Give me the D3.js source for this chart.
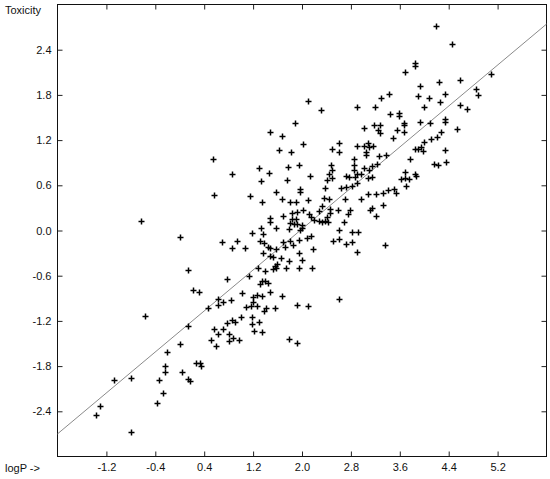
<!DOCTYPE html>
<meta charset="utf-8">
<script src="https://cdn.jsdelivr.net/npm/d3@7/dist/d3.min.js"></script>
<style>
  body { margin: 0; background: #fff; }
  text { font-family: "Liberation Sans", Arial, sans-serif; font-size: 11px; fill: #111; }
</style>
<body>
<div id="my_dataviz"></div>
<script>

// logP (x) and toxicity (y) of each compound
var logP = [
  -1.36,-1.29,-0.79,-1.06,-0.79,-0.63,-0.56,-0.36,-0.33,-0.27,-0.23,-0.23,-0.20,0.01,0.02,0.04,
  0.14,0.14,0.14,0.17,0.23,0.28,0.32,0.34,0.36,0.47,0.52,0.55,0.57,0.57,0.60,0.63,0.63,0.63,
  0.70,0.71,0.71,0.78,0.78,0.82,0.82,0.88,0.85,0.86,0.87,0.87,0.91,0.95,0.98,1.01,1.03,1.08,
  1.09,1.14,1.15,1.18,1.19,1.19,1.19,1.21,1.21,1.22,1.27,1.27,1.29,1.30,1.31,1.32,1.32,1.34,
  1.34,1.35,1.35,1.36,1.36,1.37,1.37,1.38,1.39,1.40,1.41,1.42,1.45,1.46,1.48,1.47,1.49,1.48,
  1.49,1.49,1.49,1.54,1.54,1.56,1.57,1.58,1.59,1.58,1.59,1.60,1.64,1.66,1.68,1.68,1.68,1.70,
  1.69,1.73,1.76,1.75,1.78,1.79,1.79,1.80,1.81,1.82,1.82,1.83,1.85,1.85,1.86,1.87,1.89,1.91,
  1.91,1.93,1.93,1.93,1.93,1.96,1.96,1.96,1.96,1.97,1.98,1.97,2.00,2.00,2.00,2.02,2.03,2.09,
  2.11,2.11,2.10,2.12,2.14,2.15,2.16,2.18,2.17,2.20,2.28,2.29,2.32,2.33,2.34,2.36,2.38,2.39,
  2.41,2.41,2.44,2.45,2.45,2.47,2.47,2.49,2.50,2.50,2.50,2.51,2.60,2.62,2.62,2.62,2.62,2.62,
  2.65,2.70,2.71,2.72,2.73,2.73,2.76,2.78,2.79,2.82,2.82,2.83,2.86,2.86,2.86,2.87,2.90,2.90,
  2.90,2.90,2.91,2.93,2.98,2.98,3.02,3.03,3.03,3.05,3.06,3.08,3.08,3.09,3.10,3.11,3.12,3.16,
  3.16,3.16,3.17,3.19,3.21,3.22,3.22,3.23,3.25,3.27,3.28,3.29,3.30,3.33,3.34,3.37,3.38,3.41,
  3.43,3.45,3.49,3.52,3.54,3.56,3.59,3.59,3.63,3.67,3.67,3.67,3.69,3.70,3.70,3.71,3.76,3.78,
  3.85,3.85,3.86,3.86,3.88,3.91,3.91,3.94,3.94,3.96,3.98,4.00,4.00,4.08,4.10,4.12,4.17,4.20,
  4.22,4.24,4.25,4.27,4.29,4.34,4.35,4.35,4.35,4.36,4.46,4.54,4.60,4.60,4.71,4.86,4.88,5.10
];
var toxicity = [
  -2.46,-2.34,-2.68,-1.99,-1.96,0.12,-1.14,-2.30,-1.99,-2.16,-1.80,-1.89,-1.62,-1.51,-0.09,-1.89,
  -0.53,-1.27,-1.98,-2.01,-0.79,-1.77,-0.82,-1.77,-1.80,-1.04,-1.46,0.94,-1.32,0.46,-1.54,-0.92,-1.00,-1.38,
  -0.16,-0.96,-1.31,-0.65,-1.24,-1.38,-1.47,-1.44,-0.93,0.75,-1.19,-0.24,-1.22,-0.14,-1.46,-1.15,-0.84,-0.24,
  -1.02,-0.61,0.45,-1.01,-0.04,-1.15,-1.25,-0.89,-0.96,-1.34,-0.86,-1.01,-0.50,-1.22,0.82,-0.15,-0.72,0.65,
  0.02,0.37,-0.88,-0.68,-1.35,-0.30,-0.05,-0.17,-1.08,-0.54,-0.68,-1.04,-0.22,-0.70,1.30,0.76,0.16,0.10,
  -0.24,-0.35,-0.82,-0.36,-0.52,-0.48,-1.04,0.51,0.02,-0.25,-0.51,-0.45,1.06,-0.37,1.25,0.41,-0.88,0.18,
  -0.16,-0.23,0.67,-0.50,0.84,-1.45,0.01,-0.41,0.37,-0.15,0.09,1.03,0.22,0.14,-0.20,0.08,1.42,0.14,
  0.37,0.24,0.08,-1.00,-1.50,0.86,-0.13,-0.30,-0.50,0.54,0.50,0.00,0.07,0.03,-0.40,0.26,1.14,-0.10,
  1.71,0.40,-1.01,0.21,0.72,0.17,-0.08,-0.25,-0.51,0.13,0.12,0.25,1.59,0.32,0.11,0.43,0.56,0.12,
  0.67,0.17,0.11,0.41,0.74,0.28,0.22,0.86,0.80,0.69,1.07,-0.15,0.27,1.15,1.04,0.00,-0.92,-0.12,
  0.56,0.10,0.41,0.72,-0.19,0.57,0.21,0.70,0.27,0.58,-0.16,-0.02,0.94,0.86,0.80,0.71,0.62,0.75,
  1.12,-0.29,1.63,-0.03,0.75,0.41,0.82,1.11,1.35,1.04,0.99,0.69,0.48,1.16,0.79,1.10,0.26,0.71,
  0.85,0.29,1.11,1.39,1.63,0.48,0.19,0.87,1.33,0.98,1.39,1.29,1.75,0.49,0.33,-0.20,1.00,0.53,
  1.80,1.54,1.22,0.55,0.49,1.33,1.55,1.51,0.68,1.42,1.39,1.30,0.77,0.69,2.10,0.58,0.68,0.94,
  0.75,1.08,2.22,2.18,0.72,1.78,1.07,1.91,1.44,1.10,1.05,1.63,1.17,1.75,1.42,1.21,0.87,2.71,
  1.24,0.86,1.96,1.70,1.30,1.48,1.43,1.81,1.06,0.90,2.47,1.34,1.99,1.66,1.60,1.87,1.79,2.07
];

// fitted straight line, end points at the plot edges
var fitX = [-2.0, 6.0];
var fitY = [-2.70, 2.74];

// tick values
var xTicks = [-1.2, -0.4, 0.4, 1.2, 2.0, 2.8, 3.6, 4.4, 5.2];
var yTicks = [-2.4, -1.8, -1.2, -0.6, 0.0, 0.6, 1.2, 1.8, 2.4];

var data = logP.map(function(d, i) { return {x: d, y: toxicity[i]}; });

var margin = {top: 4.5, right: 3.5, bottom: 22.5, left: 57.5},
    width = 550 - margin.left - margin.right,
    height = 479 - margin.top - margin.bottom;

var svgRoot = d3.select("#my_dataviz")
  .append("svg")
    .attr("width", 550)
    .attr("height", 479);

var svg = svgRoot.append("g")
    .attr("transform", "translate(" + margin.left + "," + margin.top + ")");

var x = d3.scaleLinear().domain([-2, 6]).range([0, width]);
var y = d3.scaleLinear().domain([-3, 3]).range([height, 0]);

var fmt = function(d) { return d.toFixed(1); };

// axes, ticks pointing inwards on all four sides
var gx = svg.append("g")
  .attr("transform", "translate(0," + height + ")")
  .call(d3.axisBottom(x).tickValues(xTicks).tickFormat(fmt).tickSize(-5).tickSizeOuter(0).tickPadding(7));
var gy = svg.append("g")
  .call(d3.axisLeft(y).tickValues(yTicks).tickFormat(fmt).tickSize(-5).tickSizeOuter(0).tickPadding(6));
var gt = svg.append("g")
  .call(d3.axisTop(x).tickValues(xTicks).tickFormat("").tickSize(-5).tickSizeOuter(0));
var gr = svg.append("g")
  .attr("transform", "translate(" + width + ",0)")
  .call(d3.axisRight(y).tickValues(yTicks).tickFormat("").tickSize(-5).tickSizeOuter(0));

[gx, gy, gt, gr].forEach(function(g) {
  g.select(".domain").remove();
  g.selectAll("line").attr("stroke", "#222");
  g.selectAll("text").attr("fill", "#111").style("font-size", "11px")
    .style("font-family", "'Liberation Sans', Arial, sans-serif");
});

// frame
svg.append("rect")
  .attr("x", 0).attr("y", 0)
  .attr("width", width).attr("height", height)
  .attr("fill", "none")
  .attr("stroke", "#111")
  .attr("stroke-width", 1);

// regression line
svg.append("line")
  .attr("x1", x(fitX[0])).attr("y1", y(fitY[0]))
  .attr("x2", x(fitX[1])).attr("y2", y(fitY[1]))
  .attr("stroke", "#8a8a8a")
  .attr("stroke-width", 1);

// plus markers
svg.append("g")
  .selectAll("path")
  .data(data)
  .enter()
  .append("path")
    .attr("transform", function(d) { return "translate(" + Math.round(x(d.x)) + "," + Math.round(y(d.y)) + ")"; })
    .attr("d", "M-3,0H3M0,-3V3")
    .attr("stroke", "#000")
    .attr("stroke-width", 1.5)
    .attr("fill", "none");

// axis names
svgRoot.append("text").attr("x", 5).attr("y", 14).text("Toxicity");
svgRoot.append("text").attr("x", 5).attr("y", 472).text("logP ->");

</script>
</body>
